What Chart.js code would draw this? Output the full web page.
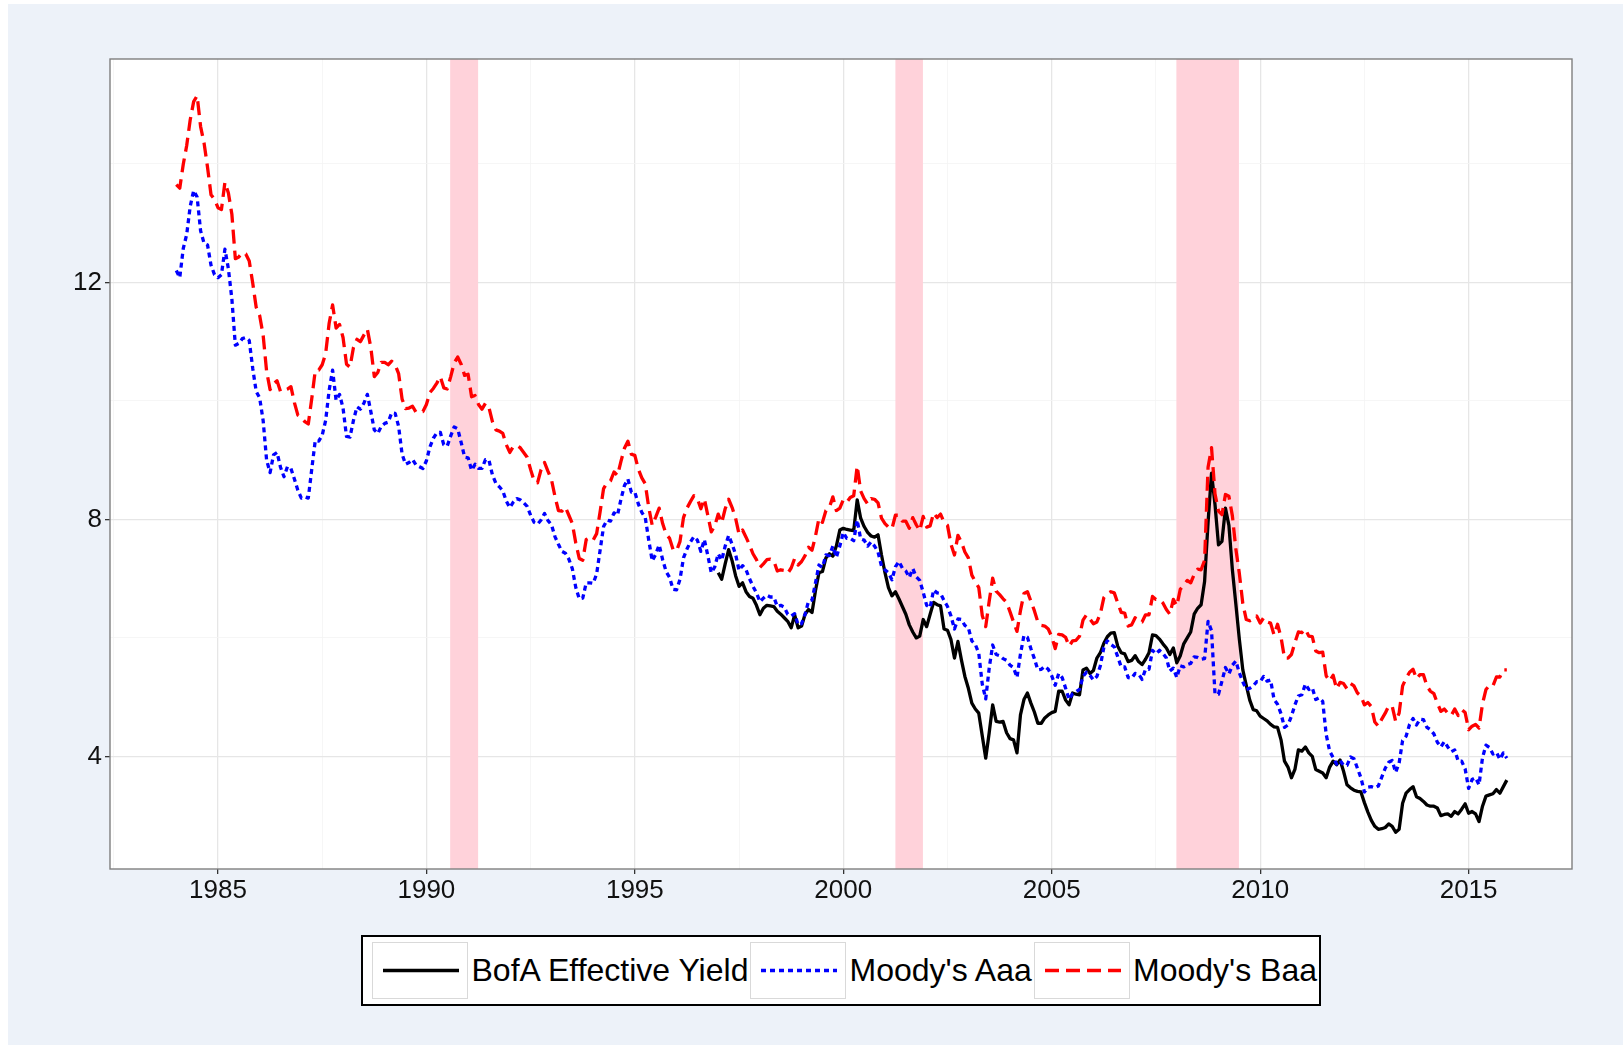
<!DOCTYPE html>
<html>
<head>
<meta charset="utf-8">
<script src="https://cdn.jsdelivr.net/npm/chart.js@4.4.1/dist/chart.umd.min.js"></script>
<style>
  html, body { margin:0; padding:0; background:#fff; }
  body { width:1623px; height:1047px; position:relative; overflow:hidden; font-family:"Liberation Sans", Arial, sans-serif; }
  #bg { position:absolute; left:8px; top:4px; right:0; bottom:2px; background:#EDF2F9; }
  #wrap { position:absolute; left:0; top:0; width:1623px; height:920px; }
  #legend { position:absolute; left:361px; top:935px; width:960px; height:71px; box-sizing:border-box; border:2.5px solid #000; background:#fff; }
  .key { position:absolute; top:4.5px; width:96px; height:57px; box-sizing:border-box; border:1px solid #d9d9d9; background:#fff; }
  .lab { position:absolute; top:0; height:66px; line-height:66px; font-size:32px; color:#000; white-space:nowrap; }
</style>
</head>
<body>
<div id="bg"></div>
<div id="wrap"><canvas id="yields" width="1623" height="920"></canvas></div>
<div id="legend"></div>

<script>
// monthly series, Jan 1984 .. Dec 2015
const startYear = 1984;
const seriesNames = ['BofA Effective Yield', "Moody's Aaa", "Moody's Baa"];

const aaaYield = [
  12.20,12.08,12.57,12.81,13.28,13.55,13.44,12.87,12.66,12.63,12.29,12.13, // 1984
  12.08,12.13,12.56,12.23,11.72,10.94,10.97,11.05,11.07,11.02,10.55,10.16,
  10.05,9.67,9.00,8.79,9.09,9.13,8.88,8.72,8.89,8.86,8.68,8.49,
  8.36,8.38,8.36,8.85,9.33,9.32,9.42,9.67,10.18,10.52,10.01,10.11,
  9.88,9.40,9.39,9.67,9.90,9.86,9.96,10.11,9.82,9.51,9.45,9.57,
  9.62,9.64,9.80,9.79,9.57,9.10,8.93,8.96,9.01,8.92,8.89,8.86,
  8.99,9.22,9.37,9.46,9.47,9.26,9.24,9.41,9.56,9.53,9.30,9.05,            // 1990
  9.04,8.83,8.93,8.86,8.86,9.01,9.00,8.75,8.61,8.55,8.48,8.31,
  8.20,8.29,8.35,8.33,8.28,8.22,8.07,7.95,7.92,7.99,8.10,7.98,
  7.91,7.71,7.58,7.46,7.43,7.33,7.17,6.85,6.66,6.67,6.93,6.93,
  6.92,7.08,7.48,7.88,7.99,7.97,8.11,8.07,8.34,8.57,8.68,8.46,
  8.46,8.26,8.12,8.03,7.65,7.30,7.41,7.57,7.32,7.12,7.02,6.82,            // 1995
  6.81,6.99,7.35,7.50,7.62,7.71,7.65,7.46,7.66,7.39,7.10,7.20,
  7.42,7.31,7.55,7.73,7.58,7.41,7.14,7.22,7.15,7.00,6.87,6.76,
  6.61,6.67,6.72,6.69,6.69,6.53,6.55,6.52,6.40,6.37,6.41,6.22,
  6.24,6.40,6.62,6.64,6.93,7.23,7.19,7.40,7.39,7.55,7.36,7.55,
  7.78,7.68,7.68,7.64,7.99,7.67,7.65,7.55,7.62,7.55,7.45,7.21,            // 2000
  7.15,7.10,6.98,7.20,7.29,7.18,7.13,7.02,7.17,7.03,6.97,6.77,
  6.55,6.51,6.81,6.76,6.75,6.63,6.53,6.37,6.15,6.32,6.31,6.21,
  6.17,5.95,5.89,5.74,5.22,4.97,5.49,5.88,5.72,5.70,5.65,5.62,
  5.54,5.50,5.33,5.73,6.04,6.01,5.82,5.65,5.46,5.47,5.52,5.47,
  5.36,5.20,5.40,5.33,5.15,4.96,5.06,5.09,5.13,5.35,5.42,5.37,            // 2005
  5.29,5.35,5.53,5.84,5.95,5.89,5.85,5.68,5.51,5.51,5.33,5.32,
  5.40,5.39,5.30,5.47,5.47,5.79,5.73,5.79,5.74,5.66,5.44,5.49,
  5.33,5.53,5.51,5.55,5.57,5.68,5.67,5.64,5.65,6.28,6.12,5.05,
  5.05,5.27,5.50,5.39,5.54,5.61,5.41,5.26,5.13,5.15,5.19,5.26,
  5.26,5.35,5.27,5.29,4.96,4.88,4.72,4.49,4.53,4.68,4.87,5.02,            // 2010
  5.04,5.22,5.13,5.16,4.96,4.99,4.93,4.37,4.09,3.98,3.87,3.93,
  3.85,3.85,3.99,3.96,3.80,3.64,3.40,3.48,3.49,3.47,3.50,3.65,
  3.80,3.90,3.93,3.73,3.89,4.27,4.34,4.54,4.64,4.53,4.63,4.62,
  4.49,4.45,4.38,4.24,4.16,4.25,4.16,4.08,4.11,3.92,3.92,3.79,
  3.46,3.61,3.64,3.52,3.98,4.19,4.15,4.04,4.07,3.95,4.06,3.97             // 2015
];

const baaYield = [
  13.65,13.59,13.99,14.31,14.74,15.05,15.15,14.63,14.35,13.94,13.48,13.40, // 1984
  13.26,13.23,13.69,13.51,13.15,12.40,12.43,12.50,12.48,12.36,11.99,11.58,
  11.44,11.11,10.50,10.19,10.29,10.34,10.16,10.18,10.20,10.24,9.97,9.76,
  9.72,9.65,9.61,10.04,10.51,10.52,10.61,10.80,11.31,11.62,11.23,11.29,
  11.07,10.62,10.57,10.90,11.04,11.00,11.11,11.21,10.90,10.41,10.48,10.65,
  10.65,10.61,10.67,10.61,10.46,10.03,9.87,9.88,9.91,9.81,9.81,9.82,
  9.94,10.14,10.21,10.30,10.41,10.22,10.20,10.41,10.64,10.74,10.62,10.43,  // 1990
  10.45,10.07,10.09,9.94,9.86,9.96,9.89,9.65,9.51,9.49,9.45,9.26,
  9.13,9.23,9.25,9.21,9.13,9.05,8.84,8.65,8.62,8.84,8.96,8.81,
  8.67,8.39,8.15,8.14,8.21,8.07,7.93,7.60,7.34,7.31,7.66,7.69,
  7.65,7.76,8.13,8.52,8.62,8.65,8.80,8.74,8.98,9.20,9.32,9.10,
  9.08,8.85,8.70,8.60,8.20,7.90,8.04,8.19,7.93,7.75,7.68,7.49,            // 1995
  7.47,7.63,8.03,8.19,8.30,8.40,8.35,8.18,8.35,8.07,7.79,7.89,
  8.09,7.94,8.18,8.34,8.20,8.02,7.75,7.82,7.70,7.57,7.42,7.32,
  7.19,7.25,7.32,7.33,7.30,7.13,7.15,7.14,7.09,7.18,7.34,7.23,
  7.29,7.39,7.53,7.48,7.72,8.02,7.95,8.15,8.20,8.38,8.15,8.19,
  8.33,8.29,8.37,8.40,8.90,8.48,8.35,8.26,8.35,8.34,8.28,8.02,            // 2000
  7.93,7.87,7.84,8.07,8.07,7.97,7.97,7.85,8.03,7.91,7.81,8.05,
  7.87,7.89,8.11,8.03,8.09,7.95,7.90,7.58,7.40,7.73,7.62,7.45,
  7.35,7.06,6.95,6.85,6.38,6.19,6.62,7.01,6.79,6.73,6.66,6.60,
  6.44,6.27,6.11,6.46,6.75,6.78,6.62,6.46,6.27,6.21,6.20,6.15,
  6.02,5.82,6.06,6.05,6.01,5.86,5.95,5.96,6.03,6.30,6.39,6.32,            // 2005
  6.24,6.27,6.41,6.68,6.75,6.78,6.76,6.59,6.43,6.42,6.20,6.22,
  6.34,6.28,6.27,6.39,6.39,6.70,6.65,6.65,6.59,6.48,6.40,6.65,
  6.54,6.82,6.89,6.97,6.93,7.07,7.16,7.15,7.31,8.88,9.21,8.43,
  8.14,8.08,8.42,8.39,8.06,7.50,7.09,6.58,6.31,6.29,6.32,6.37,
  6.25,6.34,6.27,6.25,6.05,6.23,6.01,5.66,5.66,5.72,5.92,6.10,            // 2010
  6.09,6.15,6.03,6.02,5.78,5.75,5.76,5.36,5.27,5.37,5.14,5.25,
  5.23,5.14,5.23,5.19,5.07,5.02,4.87,4.91,4.84,4.58,4.51,4.63,
  4.73,4.85,4.85,4.59,4.73,5.19,5.32,5.42,5.47,5.31,5.38,5.38,
  5.19,5.10,5.06,4.90,4.76,4.80,4.73,4.69,4.80,4.69,4.79,4.74,
  4.45,4.51,4.54,4.48,4.89,5.13,5.20,5.19,5.34,5.34,5.46,5.46             // 2015
];

// BofA index only starts in 1997
const bofaFirstMonth = 156; // months after Jan 1984 -> Jan 1997
const bofaYield = [
  7.10,6.99,7.25,7.49,7.30,7.05,6.87,6.93,6.78,6.70,6.67,6.55,            // 1997
  6.39,6.50,6.55,6.54,6.53,6.45,6.40,6.34,6.28,6.17,6.39,6.17,
  6.20,6.40,6.48,6.43,6.80,7.10,7.12,7.35,7.42,7.38,7.55,7.82,
  7.85,7.83,7.82,7.81,8.33,8.02,7.88,7.78,7.72,7.70,7.74,7.40,            // 2000
  7.10,6.85,6.71,6.78,6.66,6.53,6.40,6.22,6.10,6.00,6.03,6.31,
  6.19,6.40,6.60,6.56,6.54,6.15,6.13,5.97,5.66,5.94,5.63,5.35,
  5.15,4.90,4.80,4.73,4.35,3.97,4.40,4.87,4.59,4.58,4.59,4.40,
  4.30,4.28,4.06,4.70,4.96,5.07,4.90,4.75,4.56,4.56,4.65,4.70,
  4.74,4.76,5.10,5.10,4.95,4.87,5.07,5.05,5.04,5.46,5.49,5.40,            // 2005
  5.45,5.66,5.75,5.91,6.02,6.08,6.09,5.86,5.75,5.73,5.60,5.62,
  5.70,5.60,5.55,5.64,5.75,6.05,6.04,5.98,5.90,5.83,5.72,5.83,
  5.58,5.70,5.90,6.00,6.10,6.40,6.50,6.56,6.95,7.95,8.78,8.25,
  7.57,7.63,8.19,7.90,7.15,6.57,5.98,5.46,5.20,4.95,4.79,4.77,
  4.68,4.64,4.60,4.54,4.50,4.49,4.28,3.92,3.82,3.64,3.78,4.11,            // 2010
  4.09,4.16,4.06,4.00,3.78,3.75,3.72,3.64,3.82,3.92,3.86,3.94,
  3.75,3.52,3.47,3.43,3.41,3.40,3.22,3.06,2.92,2.82,2.77,2.78,
  2.80,2.86,2.82,2.72,2.77,3.21,3.38,3.44,3.49,3.32,3.29,3.24,
  3.18,3.16,3.16,3.13,3.00,3.02,3.03,2.99,3.07,3.03,3.11,3.20,
  3.04,3.07,3.03,2.90,3.16,3.33,3.35,3.37,3.44,3.38,3.49,3.60             // 2015
];

// shaded recessions (decimal years)
const recessions = [[1990.57, 1991.24], [2001.25, 2001.91], [2007.99, 2009.49]];

const xMajor = [1985, 1990, 1995, 2000, 2005, 2010, 2015];
const xMinor = [1982.5, 1987.5, 1992.5, 1997.5, 2002.5, 2007.5, 2012.5];
const yMajor = [4, 8, 12];
const yMinor = [6, 10, 14];

const toPoints = (arr, first) => arr.map((v, i) => ({ x: startYear + (first + i) / 12, y: v }));

const styles = [
  { color: '#000000', dash: [],     order: 2 },
  { color: '#0000FF', dash: [5, 4], order: 1 },
  { color: '#FF0000', dash: [14, 7], order: 0 }
];
const seriesData = [toPoints(bofaYield, bofaFirstMonth), toPoints(aaaYield, 0), toPoints(baaYield, 0)];

const isMajor = (v, majors) => majors.some(m => Math.abs(m - v) < 1e-6);

const panelPlugin = {
  id: 'panel',
  beforeDraw(chart) {
    // white plotting panel
    const { ctx, chartArea: a } = chart;
    ctx.save();
    ctx.fillStyle = '#FFFFFF';
    ctx.fillRect(a.left, a.top, a.right - a.left, a.bottom - a.top);
    ctx.restore();
  },
  beforeDatasetsDraw(chart) {
    const { ctx, chartArea: a, scales: { x } } = chart;
    ctx.save();
    ctx.fillStyle = '#FFD2DA';
    recessions.forEach(([s, e]) => {
      const x0 = x.getPixelForValue(s), x1 = x.getPixelForValue(e);
      ctx.fillRect(x0, a.top, x1 - x0, a.bottom - a.top);
    });
    ctx.restore();
  },
  afterDatasetsDraw(chart) {
    const { ctx, chartArea: a } = chart;
    ctx.save();
    ctx.strokeStyle = '#7F7F7F';
    ctx.lineWidth = 1.4;
    ctx.strokeRect(a.left, a.top, a.right - a.left, a.bottom - a.top);
    ctx.restore();
  }
};

const gridOpts = majors => ({
  color: c => (c.tick && isMajor(c.tick.value, majors)) ? '#E6E6E6' : '#F4F4F4',
  lineWidth: c => (c.tick && isMajor(c.tick.value, majors)) ? 1.3 : 0.8,
  tickColor: c => (c.tick && isMajor(c.tick.value, majors)) ? '#333333' : 'rgba(0,0,0,0)',
  tickLength: 5,
  tickWidth: 1.3
});

const tickFont = { family: 'Liberation Sans', size: 26 };

new Chart(document.getElementById('yields'), {
  type: 'line',
  data: {
    datasets: seriesData.map((d, i) => ({
      label: seriesNames[i],
      data: d,
      borderColor: styles[i].color,
      borderDash: styles[i].dash,
      borderWidth: 3.3,
      borderCapStyle: 'butt',
      borderJoinStyle: 'round',
      pointRadius: 0,
      tension: 0,
      fill: false,
      order: styles[i].order
    }))
  },
  options: {
    responsive: false,
    animation: false,
    devicePixelRatio: 1,
    layout: { padding: { top: 59, right: 51, left: 0, bottom: 0 } },
    plugins: { legend: { display: false }, tooltip: { enabled: false } },
    scales: {
      x: {
        type: 'linear', min: 1982.41, max: 2017.48,
        afterBuildTicks: s => { s.ticks = xMinor.concat(xMajor).sort((a, b) => a - b).map(v => ({ value: v })); },
        afterFit: s => { s.height = 51; },
        border: { display: false },
        grid: gridOpts(xMajor),
        ticks: {
          autoSkip: false, maxRotation: 0, padding: 1, color: '#111',
          font: tickFont,
          callback: v => isMajor(v, xMajor) ? String(v) : ''
        }
      },
      y: {
        type: 'linear', min: 2.10, max: 15.77,
        afterBuildTicks: s => { s.ticks = yMinor.concat(yMajor).sort((a, b) => a - b).map(v => ({ value: v })); },
        afterFit: s => { s.width = 110; },
        border: { display: false },
        grid: gridOpts(yMajor),
        ticks: {
          autoSkip: false, padding: 3, color: '#111',
          font: tickFont,
          callback: v => isMajor(v, yMajor) ? String(v) : ''
        }
      }
    }
  },
  plugins: [panelPlugin]
});

// legend with boxed keys
const legend = document.getElementById('legend');
const keyLeft = [9, 387, 670.5];
seriesNames.forEach((name, i) => {
  const key = document.createElement('div');
  key.className = 'key';
  key.style.left = keyLeft[i] + 'px';
  key.innerHTML = '<svg width="94" height="55"><line x1="10" y1="27.5" x2="86" y2="27.5" stroke="' +
    styles[i].color + '" stroke-width="3.3" stroke-dasharray="' + (styles[i].dash.join(' ') || 'none') + '"/></svg>';
  legend.appendChild(key);
  const lab = document.createElement('div');
  lab.className = 'lab';
  lab.style.left = (keyLeft[i] + 99.5) + 'px';
  lab.textContent = name;
  legend.appendChild(lab);
});
</script>
</body>
</html>
